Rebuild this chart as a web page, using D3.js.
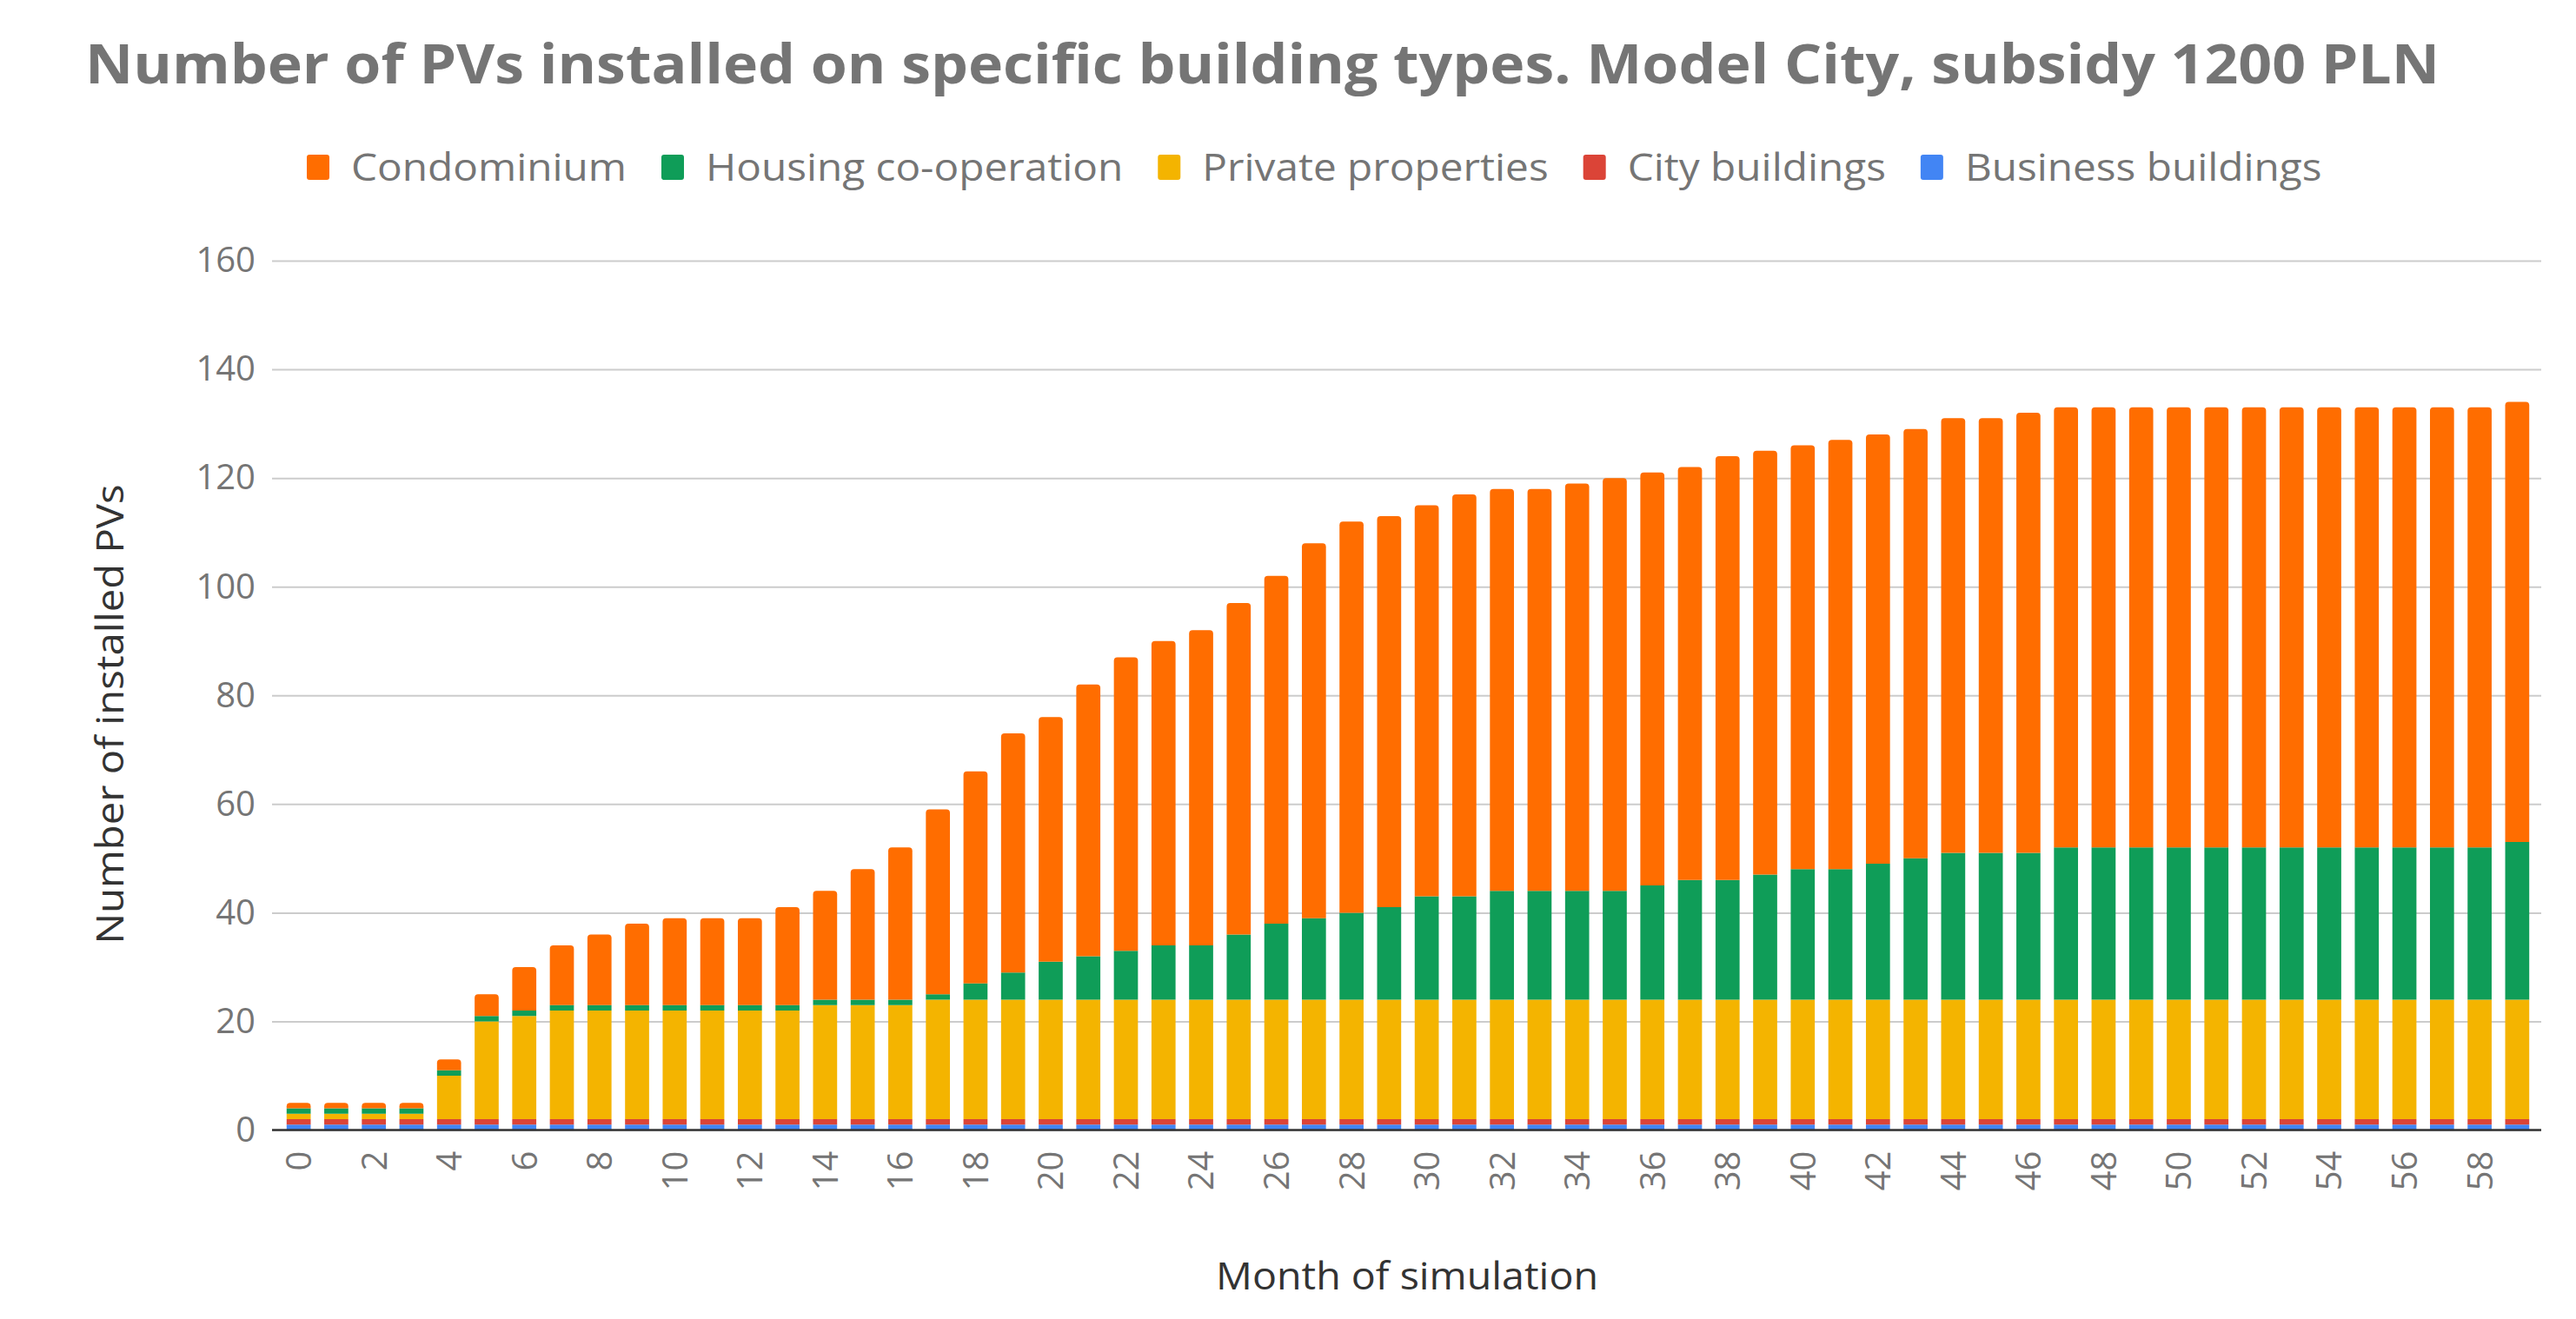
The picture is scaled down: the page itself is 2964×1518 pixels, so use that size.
<!DOCTYPE html>
<html>
<head>
<meta charset="utf-8">
<script src="https://cdn.jsdelivr.net/npm/d3@7"></script>
<style>
  html, body { margin: 0; padding: 0; background: #fff; }
  text { font-family: "Open Sans", Arial, sans-serif; }
</style>
</head>
<body>
<svg id="chart" width="2964" height="1518"></svg>
<script>
// month of simulation 0..59
const months = d3.range(0, 60);

const business = [
  1,1,1,1,1,1,1,1,1,1, 1,1,1,1,1,1,1,1,1,1,
  1,1,1,1,1,1,1,1,1,1, 1,1,1,1,1,1,1,1,1,1,
  1,1,1,1,1,1,1,1,1,1, 1,1,1,1,1,1,1,1,1,1
];
const city = [
  1,1,1,1,1,1,1,1,1,1, 1,1,1,1,1,1,1,1,1,1,
  1,1,1,1,1,1,1,1,1,1, 1,1,1,1,1,1,1,1,1,1,
  1,1,1,1,1,1,1,1,1,1, 1,1,1,1,1,1,1,1,1,1
];
const privateProps = [
  1,1,1,1,8,18,19,20,20,20, 20,20,20,20,21,21,21,22,22,22,
  22,22,22,22,22,22,22,22,22,22, 22,22,22,22,22,22,22,22,22,22,
  22,22,22,22,22,22,22,22,22,22, 22,22,22,22,22,22,22,22,22,22
];
const housing = [
  1,1,1,1,1,1,1,1,1,1, 1,1,1,1,1,1,1,1,3,5,
  7,8,9,10,10,12,14,15,16,17, 19,19,20,20,20,20,21,22,22,23,
  24,24,25,26,27,27,27,28,28,28, 28,28,28,28,28,28,28,28,28,29
];
const condo = [
  1,1,1,1,2,4,8,11,13,15, 16,16,16,18,20,24,28,34,39,44,
  45,50,54,56,58,61,64,69,72,72, 72,74,74,74,75,76,76,76,78,78,
  78,79,79,79,80,80,81,81,81,81, 81,81,81,81,81,81,81,81,81,81
];

// stacking order bottom -> top
const seriesNames = ["Business buildings", "City buildings", "Private properties", "Housing co-operation", "Condominium"];
const seriesColors = ["#4285f4", "#db4437", "#f4b400", "#0f9d58", "#ff6d00"];
const legendOrder = ["Condominium", "Housing co-operation", "Private properties", "City buildings", "Business buildings"];
const yTicks = [0, 20, 40, 60, 80, 100, 120, 140, 160];

const seriesValues = [business, city, privateProps, housing, condo];
const rows = months.map((m, i) => {
  const r = { month: m };
  seriesNames.forEach((s, k) => { r[s] = seriesValues[k][i]; });
  return r;
});

const svg = d3.select("#chart");
const plot = { left: 313, right: 2924, top: 300, bottom: 1300.5 };
const widen = 1.11; // the original font runs a bit wider than Open Sans

const x = d3.scaleBand()
  .domain(months)
  .range([322, 2918])
  .paddingInner(0.36)
  .paddingOuter(0.18);

const y = d3.scaleLinear()
  .domain([0, 160])
  .range([plot.bottom, plot.top]);

const color = d3.scaleOrdinal().domain(seriesNames).range(seriesColors);

function stretch(sel, len) {
  const w = len || sel.node().getComputedTextLength() * widen;
  sel.attr("textLength", w).attr("lengthAdjust", "spacingAndGlyphs");
  return w;
}

// title
svg.append("text")
  .attr("x", 98)
  .attr("y", 96)
  .attr("font-size", 62)
  .attr("font-weight", "bold")
  .attr("fill", "#757575")
  .text("Number of PVs installed on specific building types. Model City, subsidy 1200 PLN")
  .call(s => stretch(s, 2709));

// legend
const legend = svg.append("g").attr("transform", "translate(353,193)");
let lx = 0;
legendOrder.forEach(name => {
  const item = legend.append("g").attr("transform", `translate(${lx},0)`);
  item.append("rect")
    .attr("x", 0).attr("y", -15)
    .attr("width", 26).attr("height", 29)
    .attr("rx", 3)
    .attr("fill", color(name));
  const t = item.append("text")
    .attr("x", 51)
    .attr("y", 15)
    .attr("font-size", 43)
    .attr("fill", "#757575")
    .text(name);
  lx += 51 + stretch(t) + 40;
});

// gridlines + y axis labels
const yAxis = svg.append("g")
  .attr("transform", `translate(${plot.left},0)`)
  .call(d3.axisLeft(y).tickValues(yTicks).tickSize(-(plot.right - plot.left)).tickPadding(19));
yAxis.select(".domain").remove();
yAxis.selectAll(".tick line").attr("stroke", "#cccccc").attr("stroke-width", 2);
yAxis.selectAll(".tick text")
  .attr("font-size", 40)
  .attr("fill", "#757575")
  .attr("font-family", "\"Open Sans\", Arial, sans-serif");

// stacked bars
const stack = d3.stack().keys(seriesNames);
const layers = stack(rows);
const radius = 4;

function topRoundedPath(x0, y0, w, h, r) {
  const p = d3.path();
  p.moveTo(x0, y0 + h);
  p.lineTo(x0, y0 + r);
  p.quadraticCurveTo(x0, y0, x0 + r, y0);
  p.lineTo(x0 + w - r, y0);
  p.quadraticCurveTo(x0 + w, y0, x0 + w, y0 + r);
  p.lineTo(x0 + w, y0 + h);
  p.closePath();
  return p.toString();
}

const gBars = svg.append("g");
layers.forEach((layer, k) => {
  const isTop = k === layers.length - 1;
  gBars.append("g")
    .attr("fill", color(layer.key))
    .selectAll("path")
    .data(layer)
    .join("path")
    .attr("d", d => {
      const x0 = x(d.data.month);
      const y0 = y(d[1]);
      const h = y(d[0]) - y(d[1]);
      return topRoundedPath(x0, y0, x.bandwidth(), h, isTop ? Math.min(radius, h) : 0);
    });
});

// baseline
svg.append("line")
  .attr("x1", plot.left).attr("x2", plot.right)
  .attr("y1", y(0)).attr("y2", y(0))
  .attr("stroke", "#333333").attr("stroke-width", 2.5);

// x axis labels (every second month, rotated)
const xAxis = svg.append("g")
  .attr("transform", `translate(0,${plot.bottom})`)
  .call(d3.axisBottom(x).tickValues(months.filter(m => m % 2 === 0)).tickSize(0).tickPadding(0));
xAxis.select(".domain").remove();
xAxis.selectAll(".tick text")
  .attr("font-size", 40)
  .attr("fill", "#757575")
  .attr("font-family", "\"Open Sans\", Arial, sans-serif")
  .attr("text-anchor", "end")
  .attr("transform", "rotate(-90)")
  .attr("x", -24)
  .attr("y", 0)
  .attr("dy", "0.36em");

// axis titles
svg.append("text")
  .attr("transform", "translate(142,822) rotate(-90)")
  .attr("text-anchor", "middle")
  .attr("font-size", 43)
  .attr("fill", "#333333")
  .text("Number of installed PVs")
  .call(s => stretch(s, 529));

svg.append("text")
  .attr("x", 1619)
  .attr("y", 1484)
  .attr("text-anchor", "middle")
  .attr("font-size", 43)
  .attr("fill", "#333333")
  .text("Month of simulation")
  .call(s => stretch(s, 440));
</script>
</body>
</html>
